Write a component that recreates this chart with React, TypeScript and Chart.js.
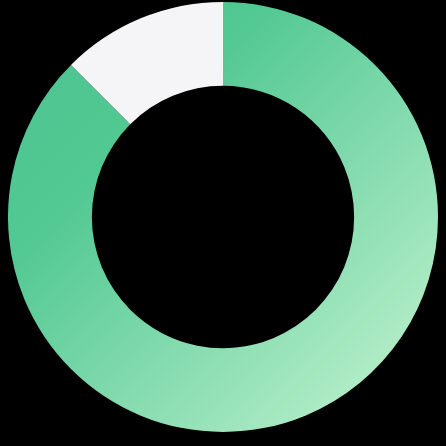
import React, { useEffect, useRef } from "react";
import { Chart, registerables } from "chart.js";

Chart.register(...registerables);

const labels = ["Done", "Remaining"];
const values = [87.5, 12.5];
const restColor = "#f5f5f7";
const gradientStops: [number, string][] = [
  [0, "#4cc48f"],
  [0.3, "#52c893"],
  [1, "#c7f5d3"],
];

export default function App() {
  const ref = useRef<HTMLCanvasElement | null>(null);

  useEffect(() => {
    document.body.style.margin = "0";
    document.body.style.background = "#000";
    const canvas = ref.current;
    if (!canvas) return;
    const chart = new Chart(canvas, {
      type: "doughnut",
      data: {
        labels,
        datasets: [
          {
            data: values,
            borderWidth: 0,
            backgroundColor: (ctx: any) => {
              if (ctx.dataIndex === 1) return restColor;
              const { chart } = ctx;
              const area = chart.chartArea;
              if (!area) return gradientStops[1][1];
              const g = chart.ctx.createLinearGradient(area.left, area.top, area.right, area.bottom);
              gradientStops.forEach(([o, c]) => g.addColorStop(o, c));
              return g;
            },
          },
        ],
      },
      options: {
        animation: false,
        responsive: false,
        cutout: "61%",
        layout: { padding: 0 },
        plugins: {
          legend: { display: false },
          tooltip: { enabled: false },
        },
      },
    });
    return () => chart.destroy();
  }, []);

  return (
    <div style={{ position: "fixed", inset: 0, background: "#000" }}>
      <canvas
        ref={ref}
        width={430}
        height={430}
        style={{ position: "absolute", left: 8, top: 1.5, width: 430, height: 430 }}
      />
    </div>
  );
}
